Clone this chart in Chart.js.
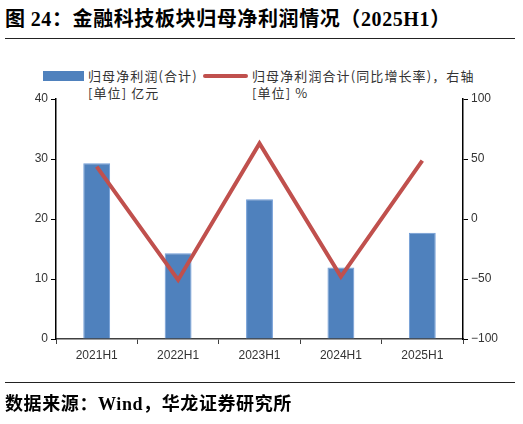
<!DOCTYPE html>
<html>
<head>
<meta charset="utf-8">
<script src="https://cdn.jsdelivr.net/npm/chart.js@4"></script>
<style>
  body { margin: 0; width: 523px; height: 424px; background: #fff; position: relative; overflow: hidden; }
  .cjk { font-family: "Noto Sans CJK SC", "Liberation Serif", serif; }
  #title { position: absolute; left: 5px; top: 3px; font-size: 20px; letter-spacing: 0.6px; font-weight: bold; color: #000; white-space: nowrap; }
  #title .num { font-family: "Liberation Serif", serif; }
  .rule { position: absolute; left: 5px; width: 510px; height: 0; border-top: 1.5px solid #222; }
  #source { position: absolute; left: 5px; top: 389px; font-size: 18px; letter-spacing: 0.6px; font-weight: bold; color: #000; white-space: nowrap; }
  #source .num { font-family: "Liberation Serif", serif; }
  .leg { position: absolute; font-size: 13px; letter-spacing: 1.1px; color: #333; line-height: 17px; white-space: nowrap; }
  .swatch { position: absolute; }
  #wrap { position: absolute; left: 0; top: 0; width: 523px; height: 424px; }
</style>
</head>
<body>
<div id="title" class="cjk">图 <span class="num">24</span>：金融科技板块归母净利润情况（<span class="num">2025H1</span>）</div>
<div class="rule" style="top:38px"></div>

<div class="swatch" style="left:43px; top:71px; width:41px; height:10px; background:#4f81bd"></div>
<div class="leg cjk" style="left:88px; top:67px">归母净利润(合计)<br>[单位] 亿元</div>
<div class="swatch" style="left:203px; top:74px; width:45px; height:4px; background:#c0504d; border-radius:2px"></div>
<div class="leg cjk" style="left:252px; top:67px">归母净利润合计(同比增长率)，右轴<br>[单位] %</div>

<div id="wrap"><canvas id="c" width="523" height="424"></canvas></div>

<div class="rule" style="top:382px"></div>
<div id="source" class="cjk">数据来源：<span class="num">Wind</span>，华龙证券研究所</div>

<script>
const categories = ['2021H1', '2022H1', '2023H1', '2024H1', '2025H1'];
const netProfit = [29.3, 14.3, 23.3, 11.9, 17.7];      // 亿元
const yoyGrowth = [43.6, -50.8, 63.0, -48.0, 48.6];     // %
const leftTicks = [0, 10, 20, 30, 40];
const rightTicks = [-100, -50, 0, 50, 100];

const tickFont = { family: '"Liberation Sans", Arial, sans-serif', size: 12 };

const ctx = document.getElementById('c').getContext('2d');
const chart = new Chart(ctx, {
    data: {
        labels: categories,
        datasets: [{
            type: 'line',
            label: '归母净利润合计(同比增长率)',
            data: yoyGrowth,
            yAxisID: 'y1',
            borderColor: '#c0504d',
            borderWidth: 4,
            pointRadius: 0,
            tension: 0,
            order: 0
        }, {
            type: 'bar',
            label: '归母净利润(合计)',
            data: netProfit,
            yAxisID: 'y',
            backgroundColor: '#4f81bd',
            borderColor: '#6f9bd6',
            borderWidth: 1,
            barPercentage: 0.33,
            categoryPercentage: 1,
            order: 1
        }]
    },
    options: {
        responsive: false,
        animation: false,
        layout: { padding: { top: 99, bottom: 55, left: 0, right: 0 } },
        plugins: {
            legend: { display: false },
            tooltip: { enabled: false }
        },
        scales: {
            x: {
                afterFit: scale => { scale.height = 30; },
                border: { color: '#404040', width: 1.5 },
                grid: { display: true, drawOnChartArea: false, tickLength: 5, color: '#404040', offset: true },
                ticks: { color: '#333', font: tickFont, padding: 4 }
            },
            y: {
                position: 'left',
                min: 0, max: 40,
                afterFit: scale => { scale.width = 56; },
                afterBuildTicks: scale => { scale.ticks = leftTicks.map(v => ({ value: v })); },
                border: { color: '#000', width: 1.5 },
                grid: { display: true, drawOnChartArea: false, tickLength: 5, color: '#000' },
                ticks: { color: '#333', font: tickFont, padding: 3 }
            },
            y1: {
                position: 'right',
                min: -100, max: 100,
                afterFit: scale => { scale.width = 60; },
                afterBuildTicks: scale => { scale.ticks = rightTicks.map(v => ({ value: v })); },
                border: { color: '#000', width: 1.5 },
                grid: { display: true, drawOnChartArea: false, tickLength: 5, color: '#000' },
                ticks: {
                    color: '#333', font: tickFont, padding: 3,
                    callback: v => (v < 0 ? '\u2212' + Math.abs(v) : String(v))
                }
            }
        }
    }
});
</script>
</body>
</html>
